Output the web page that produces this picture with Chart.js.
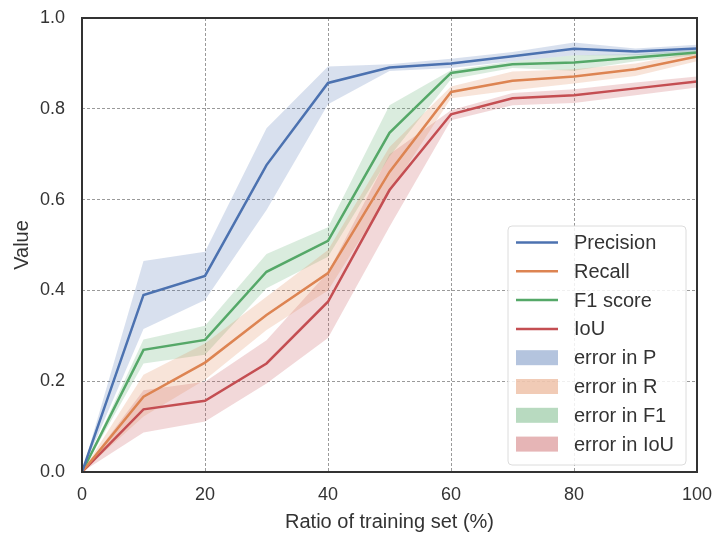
<!DOCTYPE html>
<html>
<head>
<meta charset="utf-8">
<script src="https://cdn.jsdelivr.net/npm/chart.js@4"></script>
<style>
  body { margin: 0; background: #fff; }
  #wrap { width: 713px; height: 536px; }
</style>
</head>
<body>
<div id="wrap"><canvas id="grafico" width="713" height="536"></canvas></div>
<script>
// training-set ratio (%) on the x axis
const ratios = [0, 10, 20, 30, 40, 50, 60, 70, 80, 90, 100];

const precision     = [0, 0.390, 0.432, 0.676, 0.857, 0.891, 0.900, 0.916, 0.932, 0.926, 0.933];
const precisionLow  = [0, 0.315, 0.379, 0.577, 0.810, 0.883, 0.890, 0.905, 0.918, 0.918, 0.925];
const precisionHigh = [0, 0.465, 0.485, 0.757, 0.893, 0.898, 0.910, 0.925, 0.946, 0.933, 0.941];

const recall     = [0, 0.166, 0.241, 0.346, 0.438, 0.661, 0.837, 0.862, 0.871, 0.887, 0.915];
const recallLow  = [0, 0.122, 0.203, 0.313, 0.400, 0.615, 0.823, 0.841, 0.856, 0.872, 0.905];
const recallHigh = [0, 0.214, 0.283, 0.386, 0.489, 0.716, 0.849, 0.882, 0.887, 0.900, 0.925];

const f1     = [0, 0.269, 0.291, 0.441, 0.509, 0.747, 0.879, 0.898, 0.902, 0.913, 0.924];
const f1Low  = [0, 0.239, 0.258, 0.405, 0.474, 0.695, 0.865, 0.890, 0.884, 0.905, 0.918];
const f1High = [0, 0.292, 0.322, 0.480, 0.539, 0.808, 0.885, 0.905, 0.918, 0.920, 0.930];

const iou     = [0, 0.138, 0.157, 0.239, 0.375, 0.621, 0.788, 0.823, 0.830, 0.845, 0.860];
const iouLow  = [0, 0.087, 0.111, 0.195, 0.295, 0.540, 0.775, 0.808, 0.813, 0.830, 0.847];
const iouHigh = [0, 0.180, 0.199, 0.290, 0.440, 0.700, 0.797, 0.835, 0.843, 0.858, 0.871];

const xTicks = [0, 20, 40, 60, 80, 100];
const yTicks = [0, 0.2, 0.4, 0.6, 0.8, 1.0];

const lineLabels = ['Precision', 'Recall', 'F1 score', 'IoU'];
const bandLabels = ['error in P', 'error in R', 'error in F1', 'error in IoU'];

// seaborn "deep" palette
const cores = [[76, 114, 176], [221, 132, 82], [85, 168, 104], [196, 78, 82]];
const rgba = (c, a) => `rgba(${c[0]}, ${c[1]}, ${c[2]}, ${a})`;

const series = [
  { mid: precision, low: precisionLow, high: precisionHigh },
  { mid: recall, low: recallLow, high: recallHigh },
  { mid: f1, low: f1Low, high: f1High },
  { mid: iou, low: iouLow, high: iouHigh }
];

const pontos = arr => arr.map((v, i) => ({ x: ratios[i], y: v }));

const datasets = [];
series.forEach((s, i) => {
  const c = cores[i];
  // shaded band: upper edge fills down to the lower edge (next dataset)
  datasets.push({
    label: bandLabels[i], data: pontos(s.high), order: 2,
    borderWidth: 0, pointRadius: 0, fill: '+1',
    backgroundColor: rgba(c, 0.22)
  });
  datasets.push({
    label: bandLabels[i] + ' low', data: pontos(s.low), order: 2,
    borderWidth: 0, pointRadius: 0, fill: false
  });
});
series.forEach((s, i) => {
  datasets.push({
    label: lineLabels[i], data: pontos(s.mid), order: 1,
    borderColor: rgba(cores[i], 1), borderWidth: 2.5,
    pointRadius: 0, fill: false, tension: 0
  });
});

const corTexto = '#333';

// dark frame around the plot area
const moldura = {
  id: 'moldura',
  afterDatasetsDraw(chart) {
    const { ctx, chartArea: a } = chart;
    ctx.save();
    ctx.strokeStyle = '#333';
    ctx.lineWidth = 2;
    ctx.strokeRect(a.left, a.top, a.right - a.left, a.bottom - a.top);
    ctx.restore();
  }
};

// legend box in the lower-right corner of the plot
const legenda = {
  id: 'legenda',
  afterDraw(chart) {
    const { ctx, chartArea: a } = chart;
    const w = 178, h = 239;
    const x = a.right - 11 - w, y = a.bottom - 7 - h;
    ctx.save();
    ctx.beginPath();
    ctx.roundRect(x, y, w, h, 4);
    ctx.fillStyle = 'rgba(255,255,255,0.85)';
    ctx.fill();
    ctx.strokeStyle = '#dcdcdc';
    ctx.lineWidth = 1;
    ctx.stroke();

    ctx.font = '20px "Liberation Sans", Arial, sans-serif';
    ctx.textBaseline = 'middle';
    ctx.fillStyle = corTexto;
    const rowH = 28.8;
    let yy = y + 16.5;
    lineLabels.forEach((lab, i) => {
      ctx.strokeStyle = rgba(cores[i], 1);
      ctx.lineWidth = 2.5;
      ctx.beginPath();
      ctx.moveTo(x + 8, yy);
      ctx.lineTo(x + 50, yy);
      ctx.stroke();
      ctx.fillStyle = corTexto;
      ctx.fillText(lab, x + 66, yy + 1);
      yy += rowH;
    });
    bandLabels.forEach((lab, i) => {
      ctx.fillStyle = rgba(cores[i], 0.42);
      ctx.fillRect(x + 8, yy - 7.5, 42, 15);
      ctx.fillStyle = corTexto;
      ctx.fillText(lab, x + 66, yy + 1);
      yy += rowH;
    });
    ctx.restore();
  }
};

new Chart(document.getElementById('grafico'), {
  type: 'line',
  data: { datasets },
  plugins: [moldura, legenda],
  options: {
    responsive: false,
    animation: false,
    layout: { padding: { left: 0, top: 18, right: 16, bottom: 0 } },
    plugins: { legend: { display: false }, tooltip: { enabled: false } },
    scales: {
      x: {
        type: 'linear', min: 0, max: 100,
        afterBuildTicks: s => { s.ticks = xTicks.map(v => ({ value: v })); },
        afterFit: s => { s.height = 64; s.paddingLeft = 0; s.paddingRight = 0; },
        grid: { color: '#9a9a9a', lineWidth: 1, drawTicks: false },
        border: { display: false, dash: [3, 2] },
        ticks: { color: corTexto, padding: 12, font: { family: '"Liberation Sans", Arial', size: 18 } },
        title: {
          display: true, text: 'Ratio of training set (%)', color: corTexto,
          font: { family: '"Liberation Sans", Arial', size: 20 }, padding: { top: 0, bottom: 2 }
        }
      },
      y: {
        min: 0, max: 1,
        afterBuildTicks: s => { s.ticks = yTicks.map(v => ({ value: v })); },
        afterFit: s => { s.width = 82; s.paddingTop = 0; s.paddingBottom = 0; },
        grid: { color: '#9a9a9a', lineWidth: 1, drawTicks: false },
        border: { display: false, dash: [3, 2] },
        ticks: {
          color: corTexto, padding: 17,
          font: { family: '"Liberation Sans", Arial', size: 18 },
          callback: v => v.toFixed(1)
        },
        title: {
          display: true, text: 'Value', color: corTexto,
          font: { family: '"Liberation Sans", Arial', size: 20 }, padding: { top: 10, bottom: 0 }
        }
      }
    }
  }
});
</script>
</body>
</html>
